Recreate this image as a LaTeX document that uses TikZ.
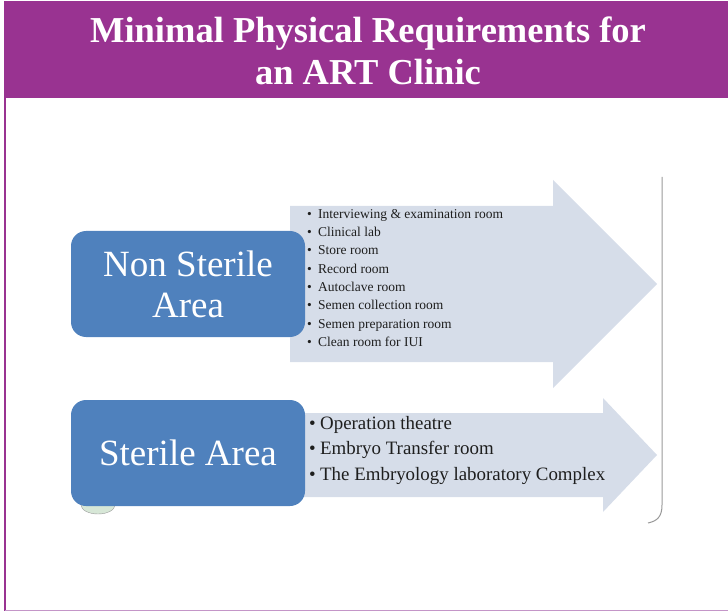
\documentclass[tikz,border=0pt]{standalone}
\usepackage{fontspec}
\setmainfont{Liberation Serif}
\usepackage{tikz}
\usetikzlibrary{positioning}
\definecolor{bandpurple}{RGB}{153,51,145}
\definecolor{framelilac}{RGB}{196,150,200}
\definecolor{areablue}{RGB}{79,129,189}
\definecolor{arrowgrey}{RGB}{214,221,233}
\definecolor{listtext}{RGB}{30,30,30}
\tikzset{
  areabox/.style={rectangle, rounded corners=15pt, fill=areablue, text=white, minimum width=234pt, minimum height=106pt, align=center, inner sep=0pt, font=\fontsize{37}{41}\selectfont},
  roomlist/.style={anchor=west, align=left, inner sep=0pt, text=listtext},
  bigarrow/.style={fill=arrowgrey, draw=none}
}
\newcommand{\roombul}[1]{\makebox[11pt][l]{\textbullet}#1}

\begin{document}
\begin{tikzpicture}[x=1pt,y=-1pt]
\useasboundingbox (0,0) rectangle (728,612);
% frame and title band
\fill [bandpurple] (4,1) rectangle (728,98);
\draw [bandpurple, line width=2pt] (5,98) -- (5,611);
\draw [framelilac, line width=1.5pt] (5,610.5) -- (728,610.5);
\node [text=white, align=center, font=\bfseries\fontsize{36.5}{42}\selectfont] (title) at (368,51) {Minimal Physical Requirements for\\an ART Clinic};
% edge of the slide
\draw [gray!80, line width=1pt] (662,177) -- (662,505) .. controls (662,517) and (657,521) .. (648,523);
% arrows
\fill [bigarrow] (290,206) -- (553,206) -- (553,180) -- (657,284) -- (553,388) -- (553,362) -- (290,362) -- cycle;
\fill [bigarrow] (290,413) -- (603,413) -- (603,398) -- (657,455) -- (603,512) -- (603,497) -- (290,497) -- cycle;
\filldraw [fill=green!25!gray!25, draw=gray!80] (98,505) ellipse (17pt and 9pt);
% areas
\node [areabox] (nonsterile) at (188,284) {Non Sterile\\Area};
\node [areabox] (sterile) at (188,453) {Sterile Area};
\node [roomlist, font=\fontsize{13.5}{18.3}\selectfont] (nslist) at (307,278) {\roombul{Interviewing \& examination room}\\\roombul{Clinical lab}\\\roombul{Store room}\\\roombul{Record room}\\\roombul{Autoclave room}\\\roombul{Semen collection room}\\\roombul{Semen preparation room}\\\roombul{Clean room for IUI}};
\node [roomlist, font=\fontsize{18.9}{25.5}\selectfont] (slist) at (309,450) {\roombul{Operation theatre}\\\roombul{Embryo Transfer room}\\\roombul{The Embryology laboratory Complex}};
\end{tikzpicture}
\end{document}
